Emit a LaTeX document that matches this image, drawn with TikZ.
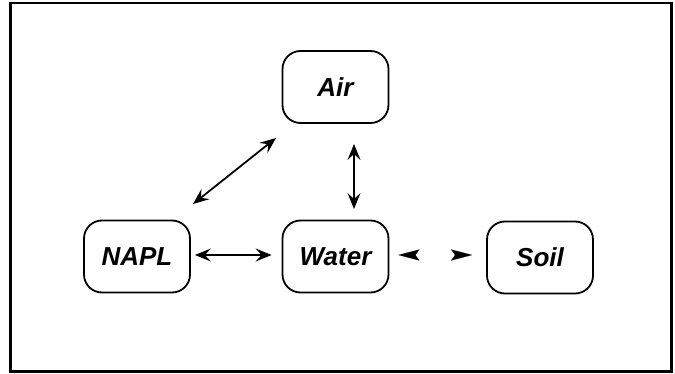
\documentclass[tikz,border=0pt]{standalone}
\usepackage{fontspec}
\setmainfont{Liberation Sans}
\usetikzlibrary{arrows.meta}
\begin{document}
\begin{tikzpicture}[x=1pt,y=-1pt,
  compbox/.style={draw, line width=1.8pt, rounded corners=18pt, minimum width=106pt, minimum height=72pt, inner sep=0pt, font=\fontsize{26}{30}\selectfont\bfseries\itshape},
  link/.style={line width=1.8pt, {Stealth[length=16pt,width=13pt,inset=6pt]}-{Stealth[length=16pt,width=13pt,inset=6pt]}},
  heads/.style={white, line width=0.1pt, {Stealth[black,length=21pt,width=11pt,inset=4pt]}-{Stealth[black,length=21pt,width=11pt,inset=4pt]}}]
\useasboundingbox (0,0) rectangle (675,374);
\draw[line width=2.5pt] (10.7,3) rectangle (671.3,371.3);
\node[compbox] (air) at (335.5,87) {Air};
\node[compbox] (napl) at (137,256.5) {NAPL};
\node[compbox] (water) at (335.5,256.5) {Water};
\node[compbox] (soil) at (540,257.5) {Soil};
\coordinate (d1) at (193,204);
\coordinate (d2) at (276,138);
\coordinate (v1) at (354,144);
\coordinate (v2) at (354,209);
\draw[link, shorten <=4pt, shorten >=10pt] ([yshift=1.5pt]napl.east) -- ([yshift=1.5pt]water.west);
\draw[link] (d1) -- (d2);
\draw[link] (v1) -- (v2);
\draw[heads, shorten <=9pt, shorten >=14pt] ([yshift=1.5pt]water.east) -- ([yshift=2.5pt]soil.west);
\end{tikzpicture}
\end{document}
